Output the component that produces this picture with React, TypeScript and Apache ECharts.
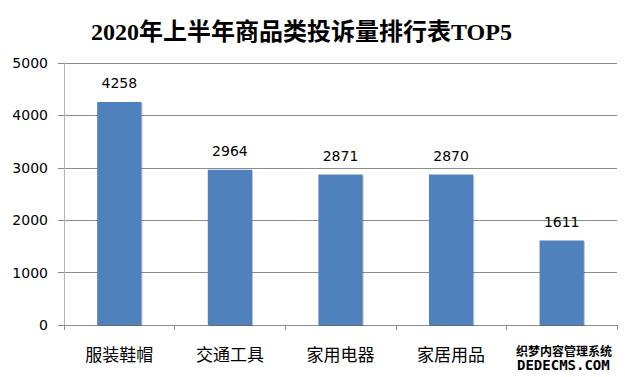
import React, { useEffect, useRef } from "react";
import * as echarts from "echarts";

const titleText = "2020年上半年商品类投诉量排行表TOP5";
const categories = ["服装鞋帽", "交通工具", "家用电器", "家居用品", ""];
const values = [4258, 2964, 2871, 2870, 1611];
const yTicks = { min: 0, max: 5000, interval: 1000 };
const watermarkLine1 = "织梦内容管理系统";
const watermarkLine2 = "DEDECMS.COM";

export default function App() {
  const ref = useRef<HTMLDivElement>(null);
  useEffect(() => {
    document.body.style.margin = "0";
    const chart = echarts.init(ref.current!, null, { renderer: "svg" });
    chart.setOption({
      animation: false,
      backgroundColor: "#ffffff",
      title: {
        text: titleText,
        left: 86,
        top: 15,
        textStyle: {
          fontFamily: "'Liberation Serif', 'Noto Sans CJK SC', serif",
          fontWeight: "bold",
          fontSize: 24,
          color: "#000000",
        },
      },
      grid: { left: 64, right: 8, top: 63, bottom: 52, containLabel: false },
      xAxis: {
        type: "category",
        data: categories,
        axisLine: { lineStyle: { color: "#8c8c8c", width: 1 } },
        axisTick: { show: true, length: 5, lineStyle: { color: "#8c8c8c" } },
        axisLabel: {
          margin: 20,
          fontSize: 17,
          color: "#000000",
          fontFamily: "'Noto Sans CJK SC', sans-serif",
        },
      },
      yAxis: {
        type: "value",
        min: yTicks.min,
        max: yTicks.max,
        interval: yTicks.interval,
        axisLine: { show: true, lineStyle: { color: "#b4b4b4", width: 1 } },
        axisTick: { show: true, length: 6, lineStyle: { color: "#8c8c8c" } },
        axisLabel: {
          margin: 16,
          fontSize: 14,
          color: "#000000",
          fontFamily: "'DejaVu Sans', sans-serif",
          formatter: (v: number) => String(v),
        },
        splitLine: { show: true, lineStyle: { color: "#8c8c8c", width: 1 } },
      },
      series: [
        {
          type: "bar",
          data: values,
          barWidth: "40%",
          itemStyle: {
            color: "#4f81bd",
            shadowColor: "rgba(0,0,0,0.25)",
            shadowOffsetX: 1,
            shadowOffsetY: 1,
            shadowBlur: 1,
          },
          label: {
            show: true,
            position: "top",
            distance: 12,
            fontSize: 14,
            color: "#000000",
            fontFamily: "'DejaVu Sans', sans-serif",
          },
        },
      ],
      graphic: [
        {
          type: "text",
          left: 515,
          top: 343,
          style: {
            text: watermarkLine1,
            fontSize: 12,
            lineHeight: 12,
            fontWeight: "bold",
            fontFamily: "'Noto Sans CJK SC', sans-serif",
            fill: "#000000",
            stroke: "#ffffff",
            lineWidth: 2,
          },
        },
        {
          type: "text",
          left: 516,
          top: 357,
          style: {
            text: watermarkLine2,
            fontSize: 14,
            lineHeight: 11,
            fontWeight: "bold",
            fontFamily: "'DejaVu Sans Mono', monospace",
            fill: "#000000",
            stroke: "#ffffff",
            lineWidth: 2,
          },
        },
      ],
    });
    return () => chart.dispose();
  }, []);
  return <div ref={ref} style={{ position: "fixed", left: 0, top: 0, width: 625, height: 377 }} />;
}
